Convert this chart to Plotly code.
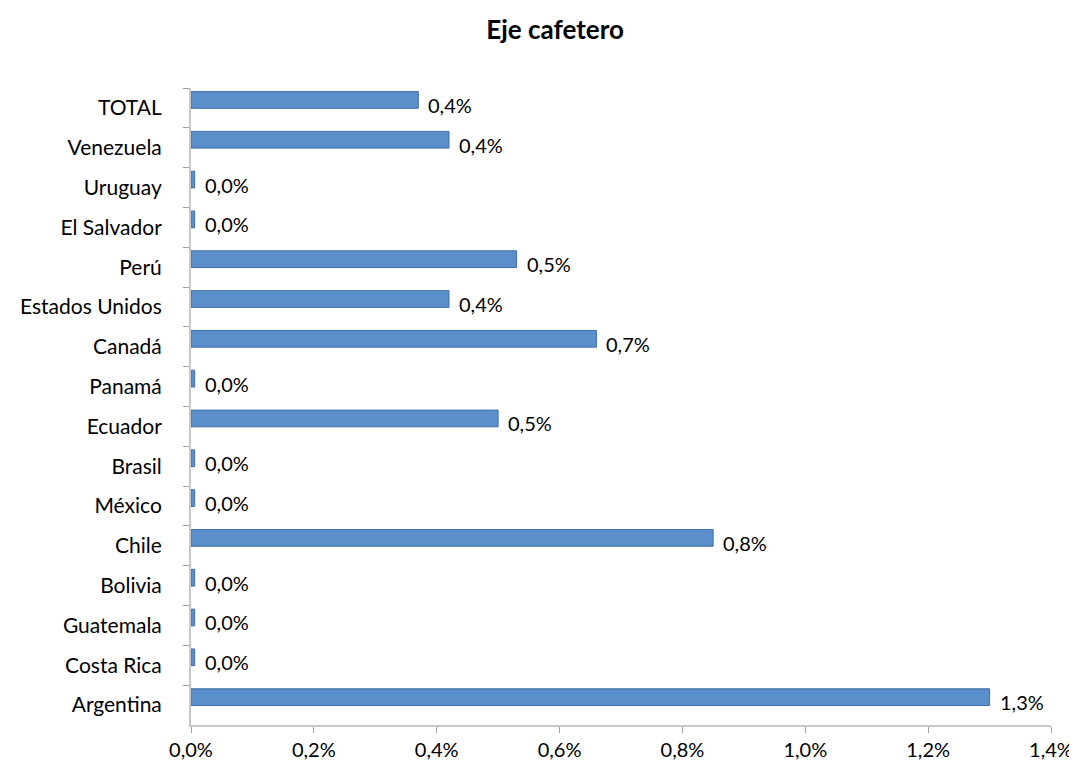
import plotly.graph_objects as go

categories = ["TOTAL", "Venezuela", "Uruguay", "El Salvador", "Perú", "Estados Unidos",
              "Canadá", "Panamá", "Ecuador", "Brasil", "México", "Chile", "Bolivia",
              "Guatemala", "Costa Rica", "Argentina"]
values = [0.37, 0.42, 0.0, 0.0, 0.53, 0.42, 0.66, 0.0, 0.50, 0.0, 0.0, 0.85, 0.0, 0.0, 0.0, 1.30]
x_ticks = [0.0, 0.2, 0.4, 0.6, 0.8, 1.0, 1.2, 1.4]

def pct(v):
    return f"{v:.1f}%".replace(".", ",")

font_family = "Lato, Open Sans, sans-serif"
FS = 20

fig = go.Figure()
fig.add_trace(go.Bar(
    y=categories,
    x=[max(v, 0.006) for v in values],
    orientation="h",
    width=0.42,
    offset=-0.41,
    marker=dict(color="#5B8FCB", line=dict(color="#3F6EA6", width=1)),
    hoverinfo="skip",
))

for cat, v in zip(categories, values):
    fig.add_annotation(x=max(v, 0.006), y=cat, xref="x", yref="y",
                       text=pct(v), showarrow=False, xanchor="left", yanchor="middle",
                       xshift=8, yshift=3,
                       font=dict(size=FS, color="#000000", family=font_family))

fig.update_layout(
    width=1077, height=765,
    paper_bgcolor="white", plot_bgcolor="white",
    showlegend=False,
    margin=dict(l=181, r=30, t=80, b=45),
    title=dict(text="<b>Eje cafetero</b>", x=0.508, xanchor="center", y=0.972, yanchor="middle",
               font=dict(size=26, color="#000000", family=font_family)),
    font=dict(family=font_family, size=FS, color="#000000"),
)
fig.update_xaxes(
    range=[0, 1.4], tickvals=x_ticks, ticktext=[pct(t) for t in x_ticks],
    showgrid=False, zeroline=False,
    showline=True, linecolor="#C8C8C8", linewidth=2,
    ticks="outside", ticklen=6, tickcolor="#A0A0A0", tickwidth=1,
    tickfont=dict(size=FS), anchor="y",
)
fig.update_yaxes(
    categoryorder="array", categoryarray=categories, autorange="reversed",
    showgrid=False, zeroline=False,
    showline=True, linecolor="#C8C8C8", linewidth=2,
    ticks="outside", ticklen=6, tickcolor="#A0A0A0", tickson="boundaries",
    tickfont=dict(size=21), ticklabelstandoff=23,
)

fig.write_html("out.html")
